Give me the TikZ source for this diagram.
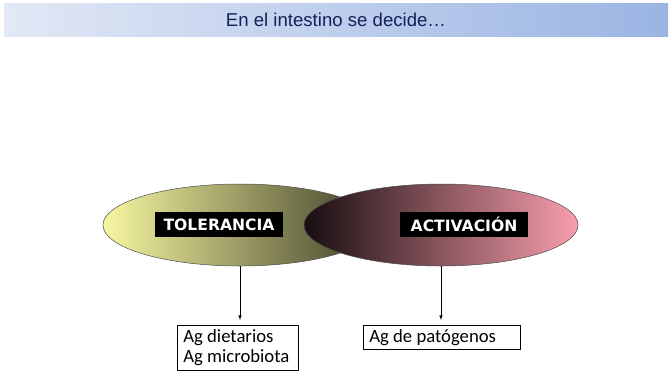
\documentclass[tikz,border=0pt]{standalone}
\usepackage{fontspec}
\setmainfont{Liberation Sans}
\newfontfamily\cuadrofont{Carlito}
\newfontfamily\etiquetafont{DejaVu Sans}
\usetikzlibrary{shapes.geometric}
\definecolor{barraizq}{HTML}{E2E8F5}
\definecolor{barrader}{HTML}{9AB4E3}
\definecolor{titulo}{HTML}{14215A}
\definecolor{tolizq}{HTML}{F7F7A2}
\definecolor{tolder}{HTML}{3E3E28}
\definecolor{actizq}{HTML}{170D10}
\definecolor{actder}{HTML}{F99FAD}
\begin{document}
\begin{tikzpicture}[
    x=1pt, y=1pt,
    zona/.style={ellipse, draw=gray!60!black, line width=0.5pt,
        minimum width=274pt, minimum height=82pt, inner sep=0pt},
    etiqueta/.style={fill=black, text=white, inner sep=0pt,
        minimum width=128pt, minimum height=25pt,
        font=\etiquetafont\bfseries\fontsize{15.6}{18}\selectfont},
    cuadro/.style={draw, line width=0.6pt, align=flush left, anchor=north west,
        inner xsep=6pt, inner ysep=4pt,
        font=\cuadrofont\fontsize{18.7}{20.5}\selectfont},
    flecha/.style={draw, -latex, line width=0.6pt, shorten >=5pt},
]
\useasboundingbox (0,0) rectangle (670,-373);

% Barra de titulo
\node[minimum width=664pt, minimum height=33pt, inner sep=0pt,
    left color=barraizq, right color=barrader,
    text=titulo, font=\fontsize{18.6}{21}\selectfont]
    (titulo) at (336,-19.5) {En el intestino se decide…};

% Elipses
\node[zona, left color=tolizq, right color=tolder] (tol) at (240,-225) {};
\node[zona, left color=actizq, right color=actder] (act) at (441,-225) {};

% Etiquetas
\node[etiqueta] (toltxt) at (219,-224.5) {TOLERANCIA};
\node[etiqueta] (acttxt) at (464,-224.5) {ACTIVACIÓN};

% Cuadros de antigenos
\node[cuadro, text width=109pt] (dieta) at (177,-325) {Ag dietarios\\Ag microbiota};
\node[cuadro, text width=145pt] (pato) at (363,-325) {Ag de patógenos};

% Flechas
\draw[flecha] (tol.south) -- (tol.south |- dieta.north);
\draw[flecha] (act.south) -- (act.south |- pato.north);

\end{tikzpicture}
\end{document}
